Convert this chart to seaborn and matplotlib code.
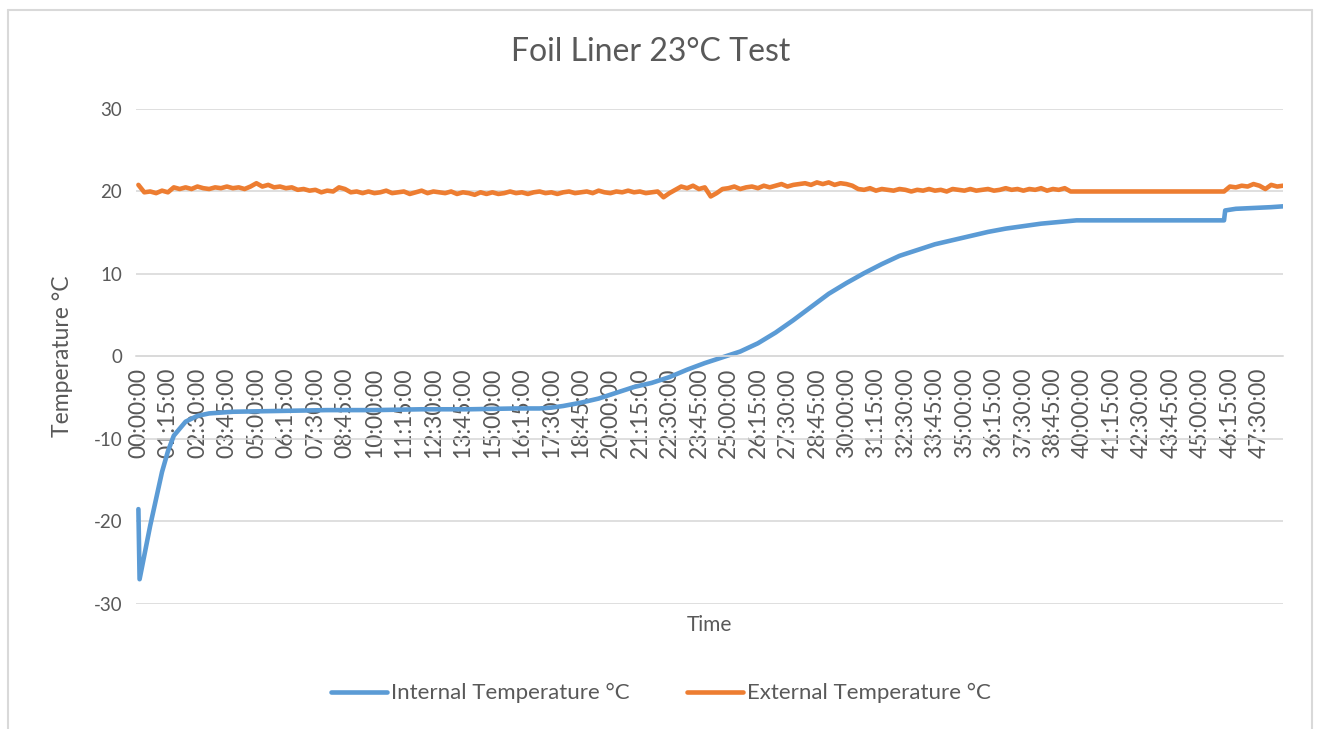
import numpy as np
import pandas as pd
import matplotlib
matplotlib.use("Agg")
import matplotlib.pyplot as plt
import seaborn as sns
from matplotlib.lines import Line2D

# --- data ---
int_hours = [0, 0.05, 0.5, 1.0, 1.25, 1.5, 2.0, 2.5, 3.0, 4.0, 6.0, 8.0, 10.0,
             12.0, 14.0, 16.0, 17.0, 17.5, 18.0, 18.75, 19.5, 20.25, 21.0,
             21.75, 22.5, 23.25, 24.0, 24.75, 25.5, 26.25, 27.0, 27.75, 28.5,
             29.25, 30.0, 30.75, 31.5, 32.25, 33.0, 33.75, 34.5, 35.25, 36.0,
             36.75, 37.5, 38.25, 39.0, 39.75, 46.0, 46.05, 46.5, 47.25, 48.0,
             48.5]
int_temp = [-18.5, -27.0, -20.5, -14.0, -11.5, -9.6, -7.9, -7.2, -6.9, -6.7,
            -6.6, -6.5, -6.5, -6.4, -6.4, -6.3, -6.3, -6.2, -6.0, -5.6, -5.1,
            -4.4, -3.7, -3.2, -2.5, -1.6, -0.8, -0.1, 0.6, 1.6, 2.9, 4.4, 6.0,
            7.6, 8.9, 10.1, 11.2, 12.2, 12.9, 13.6, 14.1, 14.6, 15.1, 15.5,
            15.8, 16.1, 16.3, 16.5, 16.5, 17.7, 17.9, 18.0, 18.1, 18.2]

# external logger reading every 15 minutes
ext_temp = [
    20.8, 19.9, 20.0, 19.8, 20.1, 19.9, 20.5, 20.3, 20.5, 20.3, 20.6, 20.4,
    20.3, 20.5, 20.4, 20.6, 20.4, 20.5, 20.3, 20.6, 21.0, 20.6, 20.8, 20.5,
    20.6, 20.4, 20.5, 20.2, 20.3, 20.1, 20.2, 19.9, 20.1, 20.0, 20.5, 20.3,
    19.9, 20.0, 19.8, 20.0, 19.8, 19.9, 20.1, 19.8, 19.9, 20.0, 19.7, 19.9,
    20.1, 19.8, 20.0, 19.9, 19.8, 20.0, 19.7, 19.9, 19.8, 19.6, 19.9, 19.7,
    19.9, 19.7, 19.8, 20.0, 19.8, 19.9, 19.7, 19.9, 20.0, 19.8, 19.9, 19.7,
    19.9, 20.0, 19.8, 19.9, 20.0, 19.8, 20.1, 19.9, 19.8, 20.0, 19.9, 20.1,
    19.9, 20.0, 19.8, 19.9, 20.0, 19.3, 19.8, 20.2, 20.6, 20.4, 20.7, 20.3,
    20.5, 19.4, 19.8, 20.3, 20.4, 20.6, 20.3, 20.5, 20.6, 20.4, 20.7, 20.5,
    20.7, 20.9, 20.6, 20.8, 20.9, 21.0, 20.8, 21.1, 20.9, 21.1, 20.8, 21.0,
    20.9, 20.7, 20.3, 20.2, 20.4, 20.1, 20.3, 20.2, 20.1, 20.3, 20.2, 20.0,
    20.2, 20.1, 20.3, 20.1, 20.2, 20.0, 20.3, 20.2, 20.1, 20.3, 20.1, 20.2,
    20.3, 20.1, 20.2, 20.4, 20.2, 20.3, 20.1, 20.3, 20.2, 20.4, 20.1, 20.3,
    20.2, 20.4, 20.0, 20.0, 20.0, 20.0, 20.0, 20.0, 20.0, 20.0, 20.0, 20.0,
    20.0, 20.0, 20.0, 20.0, 20.0, 20.0, 20.0, 20.0, 20.0, 20.0, 20.0, 20.0,
    20.0, 20.0, 20.0, 20.0, 20.0, 20.6, 20.5, 20.7, 20.6, 20.9, 20.7, 20.3,
    20.8, 20.6, 20.7,
]
ext_hours = np.arange(len(ext_temp)) * 0.25

tick_labels = [
    "00:00:00", "01:15:00", "02:30:00", "03:45:00", "05:00:00", "06:15:00",
    "07:30:00", "08:45:00", "10:00:00", "11:15:00", "12:30:00", "13:45:00",
    "15:00:00", "16:15:00", "17:30:00", "18:45:00", "20:00:00", "21:15:00",
    "22:30:00", "23:45:00", "25:00:00", "26:15:00", "27:30:00", "28:45:00",
    "30:00:00", "31:15:00", "32:30:00", "33:45:00", "35:00:00", "36:15:00",
    "37:30:00", "38:45:00", "40:00:00", "41:15:00", "42:30:00", "43:45:00",
    "45:00:00", "46:15:00", "47:30:00",
]
tick_hours = [int(s[:2]) + int(s[3:5]) / 60 for s in tick_labels]

INT_LABEL = "Internal Temperature °C"
EXT_LABEL = "External Temperature °C"
BLUE = "#5B9BD5"
ORANGE = "#ED7D31"
TEXT = "#595959"
GRID = "#D9D9D9"

df = pd.concat([
    pd.DataFrame({"hours": int_hours, "temp": int_temp, "series": INT_LABEL}),
    pd.DataFrame({"hours": ext_hours, "temp": ext_temp, "series": EXT_LABEL}),
])

sns.set_theme(style="white")
plt.rcParams["font.family"] = ["Lato", "DejaVu Sans"]
plt.rcParams["axes.unicode_minus"] = False

fig = plt.figure(figsize=(13.17, 7.29), dpi=100)
ax = fig.add_axes([0.1033, 0.1715, 0.8709, 0.679])

sns.lineplot(data=df, x="hours", y="temp", hue="series",
             palette={INT_LABEL: BLUE, EXT_LABEL: ORANGE},
             linewidth=3.3, legend=False, ax=ax, sort=False)

ax.set_xlim(-0.1, 48.5)
ax.set_ylim(-30, 30)
ax.set_yticks(range(-30, 31, 10))
ax.yaxis.grid(True, color=GRID, linewidth=1.2)
ax.set_axisbelow(True)
for s in ["top", "right", "left"]:
    ax.spines[s].set_visible(False)
ax.spines["bottom"].set_position(("data", 0))
ax.spines["bottom"].set_color(GRID)
ax.spines["bottom"].set_linewidth(1.2)

ax.set_xticks(tick_hours)
ax.set_xticklabels(tick_labels, rotation=90, fontsize=16.5, color=TEXT)
ax.tick_params(axis="x", length=0, pad=8)
ax.tick_params(axis="y", length=0, pad=10, labelsize=13.5, labelcolor=TEXT)

ax.set_xlabel("Time", fontsize=15, color=TEXT)
ax.xaxis.set_label_coords(0.5, -0.043)
ax.xaxis.label.set_va("center")
ax.set_ylabel("Temperature °C", fontsize=16.5, color=TEXT)
ax.yaxis.set_label_coords(-0.0645, 0.5)
ax.yaxis.label.set_va("center")

fig.text(0.494, 1 - 52 / 729, "Foil Liner 23°C Test", ha="center", va="center",
         fontsize=23, color=TEXT)

handles = [Line2D([], [], color=BLUE, linewidth=3.3),
           Line2D([], [], color=ORANGE, linewidth=3.3)]
leg = fig.legend(handles, [INT_LABEL, EXT_LABEL], loc="center",
                 bbox_to_anchor=(0.502, 0.049), ncol=2, frameon=False,
                 fontsize=16, handlelength=2.5, handletextpad=0.2,
                 columnspacing=2.6)
for t in leg.get_texts():
    t.set_color(TEXT)

# chart-area border like the Excel frame
for xs, ys in [((8, 8), (10, 729)), ((8, 1312), (10, 10)), ((1312, 1312), (10, 729))]:
    fig.add_artist(Line2D([x / 1317 for x in xs], [1 - y / 729 for y in ys],
                          color=GRID, linewidth=1.5))

fig.savefig("out.png", dpi=100)
